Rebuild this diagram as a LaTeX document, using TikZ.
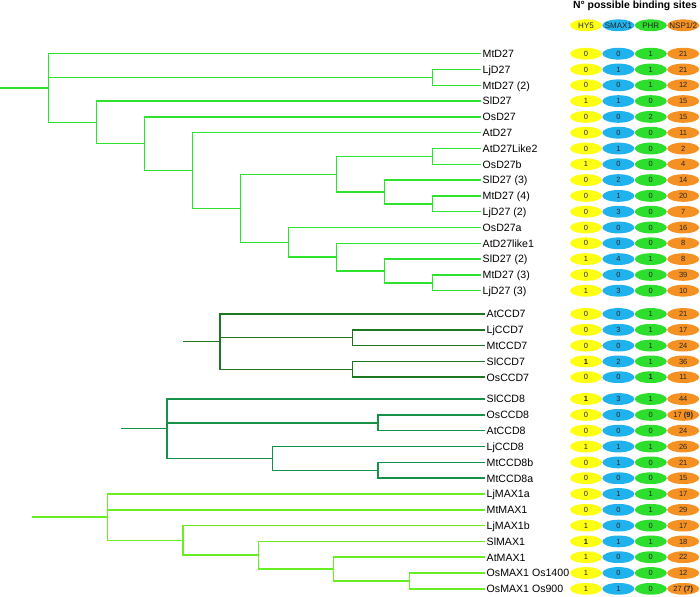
\documentclass[tikz,border=0pt]{standalone}
\usepackage{fontspec}
\setmainfont{Liberation Sans}
\usetikzlibrary{positioning,shapes.geometric}

\definecolor{d27col}{RGB}{45,228,45}
\definecolor{ccd7col}{RGB}{30,118,34}
\definecolor{ccd8col}{RGB}{22,145,72}
\definecolor{max1col}{RGB}{105,238,35}
\definecolor{hycol}{RGB}{255,255,20}
\definecolor{smcol}{RGB}{32,178,236}
\definecolor{phcol}{RGB}{45,222,45}
\definecolor{nscol}{RGB}{245,145,35}

\newcommand{\sites}[5]{%
	\node[ellhy] (#1-hy) at (#1 -| hy5) {#2};
	\node[ellsm] (#1-sm) at (#1 -| smax1) {#3};
	\node[ellph] (#1-ph) at (#1 -| phr) {#4};
	\node[ellns] (#1-ns) at (#1 -| nsp) {#5};
}

\begin{document}
\begin{tikzpicture}[x=1pt,y=-1pt,every node/.style={inner sep=0pt},
	leaf/.style={anchor=west,inner sep=1.5pt,text height=7.7pt,text depth=0pt,font=\fontsize{10.6}{12}\selectfont},
	site/.style={minimum width=32pt,minimum height=11.5pt,inner sep=0pt,text height=5.3pt,text depth=0pt,text=black!85,font=\fontsize{7.5}{9}\selectfont,
		path picture={\fill[#1] (path picture bounding box.center) ellipse [x radius=16pt,y radius=5.9pt];}},
	ellhy/.style={site=hycol},
	ellsm/.style={site=smcol},
	ellph/.style={site=phcol},
	ellns/.style={site=nscol},
	head/.style={font=\fontsize{8}{9}\selectfont,text height=5.8pt},
	title/.style={anchor=base,font=\bfseries\fontsize{10.4}{12}\selectfont},
	d27/.style={draw=d27col,line width=1.5pt},
	ccd7/.style={draw=ccd7col,line width=1.5pt},
	ccd8/.style={draw=ccd8col,line width=1.5pt},
	max1/.style={draw=max1col,line width=1.5pt}]

	\useasboundingbox (0,0) rectangle (700,596);

	\node[title] (title) at (635,8.7) {N° possible binding sites};
	\node[ellhy,head] (hy5) at (586,25.3) {HY5};
	\node[ellsm,head,right=0pt of hy5] (smax1) {SMAX1};
	\node[ellph,head,right=0pt of smax1] (phr) {PHR};
	\node[ellns,head,right=0pt of phr] (nsp) {NSP1/2};

	\node[leaf] (mtd27) at (481,53.7) {MtD27};
	\node[leaf] (ljd27) at (481,69.5) {LjD27};
	\node[leaf] (mtd27b) at (481,85.3) {MtD27 (2)};
	\node[leaf] (sld27) at (481,101.1) {SlD27};
	\node[leaf] (osd27) at (481,116.9) {OsD27};
	\node[leaf] (atd27) at (481,132.7) {AtD27};
	\node[leaf] (atlike2) at (481,148.5) {AtD27Like2};
	\node[leaf] (osd27b) at (481,164.3) {OsD27b};
	\node[leaf] (sld27c) at (481,180.1) {SlD27 (3)};
	\node[leaf] (mtd27d) at (481,195.9) {MtD27 (4)};
	\node[leaf] (ljd27b) at (481,211.7) {LjD27 (2)};
	\node[leaf] (osd27a) at (481,227.5) {OsD27a};
	\node[leaf] (atlike1) at (481,243.3) {AtD27like1};
	\node[leaf] (sld27b) at (481,259.1) {SlD27 (2)};
	\node[leaf] (mtd27c) at (481,274.9) {MtD27 (3)};
	\node[leaf] (ljd27c) at (481,290.7) {LjD27 (3)};

	\node[leaf] (atccd7) at (485,314) {AtCCD7};
	\node[leaf] (ljccd7) at (485,329.8) {LjCCD7};
	\node[leaf] (mtccd7) at (485,345.6) {MtCCD7};
	\node[leaf] (slccd7) at (485,361.4) {SlCCD7};
	\node[leaf] (osccd7) at (485,377.2) {OsCCD7};

	\node[leaf] (slccd8) at (485,399) {SlCCD8};
	\node[leaf] (osccd8) at (485,414.9) {OsCCD8};
	\node[leaf] (atccd8) at (485,430.7) {AtCCD8};
	\node[leaf] (ljccd8) at (485,446.5) {LjCCD8};
	\node[leaf] (mtccd8b) at (485,462.4) {MtCCD8b};
	\node[leaf] (mtccd8a) at (485,478.2) {MtCCD8a};

	\node[leaf] (ljmax1a) at (485,494) {LjMAX1a};
	\node[leaf] (mtmax1) at (485,509.8) {MtMAX1};
	\node[leaf] (ljmax1b) at (485,525.6) {LjMAX1b};
	\node[leaf] (slmax1) at (485,541.4) {SlMAX1};
	\node[leaf] (atmax1) at (485,557.2) {AtMAX1};
	\node[leaf] (osmax1a) at (485,573) {OsMAX1 Os1400};
	\node[leaf] (osmax1b) at (485,588.8) {OsMAX1 Os900};

	\sites{mtd27}{0}{0}{1}{21}
	\sites{ljd27}{0}{1}{1}{21}
	\sites{mtd27b}{0}{0}{1}{12}
	\sites{sld27}{1}{1}{0}{15}
	\sites{osd27}{0}{0}{2}{15}
	\sites{atd27}{0}{0}{0}{11}
	\sites{atlike2}{0}{1}{0}{2}
	\sites{osd27b}{1}{0}{0}{4}
	\sites{sld27c}{0}{2}{0}{14}
	\sites{mtd27d}{0}{1}{0}{20}
	\sites{ljd27b}{0}{3}{0}{7}
	\sites{osd27a}{0}{0}{0}{16}
	\sites{atlike1}{0}{0}{0}{8}
	\sites{sld27b}{1}{4}{1}{8}
	\sites{mtd27c}{0}{0}{0}{39}
	\sites{ljd27c}{1}{3}{0}{10}
	\sites{atccd7}{0}{0}{1}{21}
	\sites{ljccd7}{0}{3}{1}{17}
	\sites{mtccd7}{0}{0}{1}{24}
	\sites{slccd7}{\textbf{1}}{2}{1}{36}
	\sites{osccd7}{0}{0}{\textbf{1}}{11}
	\sites{slccd8}{\textbf{1}}{3}{1}{44}
	\sites{osccd8}{0}{0}{0}{17 \textbf{(9)}}
	\sites{atccd8}{0}{0}{0}{24}
	\sites{ljccd8}{1}{1}{1}{26}
	\sites{mtccd8b}{0}{1}{0}{21}
	\sites{mtccd8a}{0}{0}{0}{15}
	\sites{ljmax1a}{0}{1}{1}{17}
	\sites{mtmax1}{0}{0}{1}{29}
	\sites{ljmax1b}{1}{0}{0}{17}
	\sites{slmax1}{\textbf{1}}{1}{1}{18}
	\sites{atmax1}{1}{0}{0}{22}
	\sites{osmax1a}{1}{0}{0}{12}
	\sites{osmax1b}{1}{1}{0}{27 \textbf{(7)}}

	\coordinate (d27stub) at (0,88.1);
	\coordinate (d27root) at (48.7,88.1);
	\coordinate (d27p1) at (432.7,77.4);
	\coordinate (d27c1) at (96.7,122.4);
	\coordinate (d27c2) at (144.3,143.7);
	\coordinate (d27c3) at (192.3,170.5);
	\coordinate (d27c4) at (240.3,208.3);
	\coordinate (d27c5) at (336.5,174.3);
	\coordinate (d27p2) at (432.7,156.4);
	\coordinate (d27c7) at (384.7,192);
	\coordinate (d27p3) at (432.7,203.8);
	\coordinate (d27c6) at (288.5,242.3);
	\coordinate (d27c8) at (336.5,257.1);
	\coordinate (d27c9) at (384.7,271);
	\coordinate (d27p4) at (432.7,282.8);

	\draw[d27] (d27stub) -- (d27root);
	\draw[d27] (d27root) |- (mtd27.west) (d27root) |- (d27p1) (d27root) |- (d27c1);
	\draw[d27] (d27p1) |- (ljd27.west) (d27p1) |- (mtd27b.west);
	\draw[d27] (d27c1) |- (sld27.west) (d27c1) |- (d27c2);
	\draw[d27] (d27c2) |- (osd27.west) (d27c2) |- (d27c3);
	\draw[d27] (d27c3) |- (atd27.west) (d27c3) |- (d27c4);
	\draw[d27] (d27c4) |- (d27c5) (d27c4) |- (d27c6);
	\draw[d27] (d27c5) |- (d27p2) (d27c5) |- (d27c7);
	\draw[d27] (d27p2) |- (atlike2.west) (d27p2) |- (osd27b.west);
	\draw[d27] (d27c7) |- (sld27c.west) (d27c7) |- (d27p3);
	\draw[d27] (d27p3) |- (mtd27d.west) (d27p3) |- (ljd27b.west);
	\draw[d27] (d27c6) |- (osd27a.west) (d27c6) |- (d27c8);
	\draw[d27] (d27c8) |- (atlike1.west) (d27c8) |- (d27c9);
	\draw[d27] (d27c9) |- (sld27b.west) (d27c9) |- (d27p4);
	\draw[d27] (d27p4) |- (mtd27c.west) (d27p4) |- (ljd27c.west);

	\coordinate (ccd7stub) at (183,341.6);
	\coordinate (ccd7root) at (220,341.6);
	\coordinate (ccd7p1) at (352.7,337.7);
	\coordinate (ccd7p2) at (352.7,369.3);

	\draw[ccd7] (ccd7stub) -- (ccd7root);
	\draw[ccd7] (ccd7root) |- (atccd7.west) (ccd7root) |- (ccd7p1) (ccd7root) |- (ccd7p2);
	\draw[ccd7] (ccd7p1) |- (ljccd7.west) (ccd7p1) |- (mtccd7.west);
	\draw[ccd7] (ccd7p2) |- (slccd7.west) (ccd7p2) |- (osccd7.west);

	\coordinate (ccd8stub) at (121,428.7);
	\coordinate (ccd8root) at (167,428.7);
	\coordinate (ccd8p1) at (378,422.8);
	\coordinate (ccd8c1) at (272.7,458.4);
	\coordinate (ccd8p2) at (378,470.3);

	\draw[ccd8] (ccd8stub) -- (ccd8root);
	\draw[ccd8] (ccd8root) |- (slccd8.west) (ccd8root) |- (ccd8p1) (ccd8root) |- (ccd8c1);
	\draw[ccd8] (ccd8p1) |- (osccd8.west) (ccd8p1) |- (atccd8.west);
	\draw[ccd8] (ccd8c1) |- (ljccd8.west) (ccd8c1) |- (ccd8p2);
	\draw[ccd8] (ccd8p2) |- (mtccd8b.west) (ccd8p2) |- (mtccd8a.west);

	\coordinate (max1stub) at (32,517.2);
	\coordinate (max1root) at (107.3,517.2);
	\coordinate (max1c1) at (183,540.4);
	\coordinate (max1c2) at (258.3,555.2);
	\coordinate (max1c3) at (333.7,569.1);
	\coordinate (max1p1) at (409.3,580.9);

	\draw[max1] (max1stub) -- (max1root);
	\draw[max1] (max1root) |- (ljmax1a.west) (max1root) |- (mtmax1.west) (max1root) |- (max1c1);
	\draw[max1] (max1c1) |- (ljmax1b.west) (max1c1) |- (max1c2);
	\draw[max1] (max1c2) |- (slmax1.west) (max1c2) |- (max1c3);
	\draw[max1] (max1c3) |- (atmax1.west) (max1c3) |- (max1p1);
	\draw[max1] (max1p1) |- (osmax1a.west) (max1p1) |- (osmax1b.west);
\end{tikzpicture}
\end{document}
